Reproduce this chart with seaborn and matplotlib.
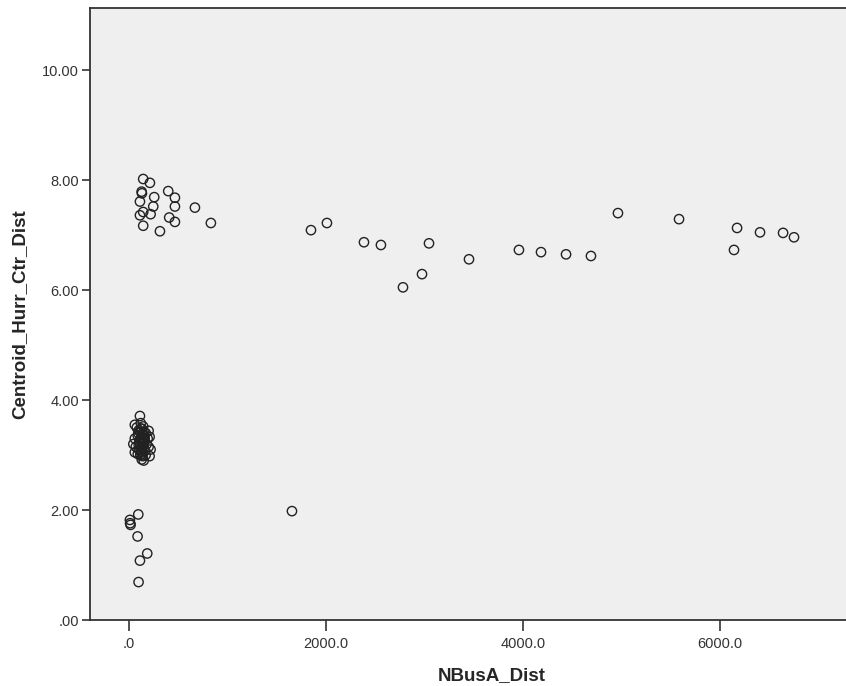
import numpy as np
import pandas as pd
import matplotlib
matplotlib.use("Agg")
import matplotlib.pyplot as plt
import seaborn as sns

# values
upper_x = [145, 213, 129, 132, 112, 257, 399, 467, 467, 247, 670, 145, 112, 220, 409,
           467, 145, 315, 832, 1848, 2010, 2386, 2558, 3046, 2782, 2975, 3452, 3959,
           4183, 4437, 4690, 4964, 5584, 6173, 6142, 6406, 6640, 6751]
upper_y = [8.02, 7.95, 7.79, 7.76, 7.61, 7.69, 7.80, 7.68, 7.52, 7.52, 7.50, 7.42, 7.36,
           7.38, 7.32, 7.24, 7.17, 7.07, 7.22, 7.09, 7.22, 6.87, 6.82, 6.85, 6.05, 6.29,
           6.56, 6.73, 6.69, 6.65, 6.62, 7.40, 7.29, 7.13, 6.73, 7.05, 7.04, 6.96]

# dense cluster near x=0, y~3 (heavily overlapping in the original)
mid_x = [60, 80, 100, 112, 130, 150, 170, 200, 60, 90, 110, 140, 160, 190, 210, 70, 100,
         125, 150, 180, 200, 60, 90, 115, 140, 170, 210, 130, 150, 110, 135, 120, 95, 165,
         145, 120, 45, 220, 105, 125, 140, 155, 115, 130, 100, 160, 135, 150, 120, 145]
mid_y = [3.55, 3.50, 3.45, 3.71, 3.48, 3.42, 3.40, 3.44, 3.30, 3.35, 3.28, 3.32, 3.25,
         3.30, 3.33, 3.15, 3.18, 3.10, 3.12, 3.20, 3.15, 3.05, 3.02, 3.00, 2.98, 3.00,
         2.98, 2.92, 2.90, 3.22, 3.38, 3.05, 3.40, 3.08, 3.52, 3.58, 3.20, 3.10, 3.25,
         3.32, 3.22, 3.36, 3.42, 3.15, 3.10, 3.30, 3.02, 3.18, 3.48, 3.28]

low_x = [95, 10, 12, 17, 88, 186, 112, 98, 1655]
low_y = [1.92, 1.82, 1.76, 1.73, 1.52, 1.21, 1.08, 0.69, 1.98]

x_ticks = [0, 2000, 4000, 6000]
x_tick_labels = [".0", "2000.0", "4000.0", "6000.0"]
y_ticks = [0, 2, 4, 6, 8, 10]
y_tick_labels = [".00", "2.00", "4.00", "6.00", "8.00", "10.00"]

df = pd.DataFrame({
    "NBusA_Dist": upper_x + mid_x + low_x,
    "Centroid_Hurr_Ctr_Dist": upper_y + mid_y + low_y,
})

sns.set_style("ticks", {"axes.facecolor": "#efefef", "axes.edgecolor": "#333333"})
plt.rcParams["font.family"] = ["Liberation Sans", "DejaVu Sans"]

fig = plt.figure(figsize=(8.46, 6.86), dpi=100)
# the original chart is cropped on the right, so the axes run past the figure edge
ax = fig.add_axes([90 / 846, 66 / 686, 804 / 846, 612 / 686])

sns.scatterplot(data=df, x="NBusA_Dist", y="Centroid_Hurr_Ctr_Dist", ax=ax,
                marker="o", s=45, facecolor="none", edgecolor="#222222", linewidth=1.0)

ax.set_xlim(-395, 7766)
ax.set_ylim(0, 11.13)
ax.set_xticks(x_ticks)
ax.set_xticklabels(x_tick_labels)
ax.set_yticks(y_ticks)
ax.set_yticklabels(y_tick_labels)
ax.tick_params(axis="x", length=8, width=1.2, colors="#333333", labelsize=10.5, pad=4)
ax.tick_params(axis="y", length=6, width=1.2, colors="#333333", labelsize=10.5, pad=2)

ax.spines["right"].set_visible(False)
for sp in ["left", "bottom", "top"]:
    ax.spines[sp].set_linewidth(1.3)

ax.set_xlabel("NBusA_Dist", fontsize=13.5, fontweight="bold", labelpad=12)
ax.set_ylabel("Centroid_Hurr_Ctr_Dist", fontsize=13.5, fontweight="bold", labelpad=10)

fig.savefig("out.png", dpi=100)
